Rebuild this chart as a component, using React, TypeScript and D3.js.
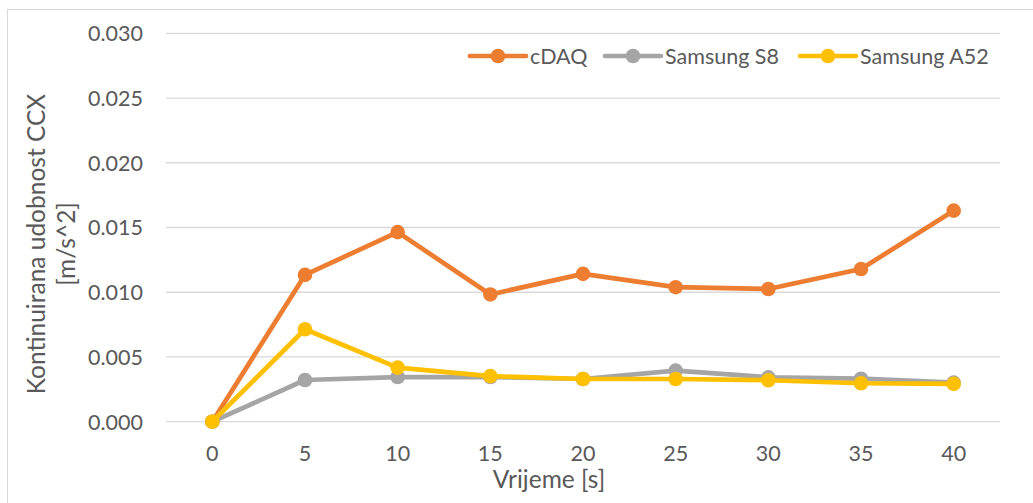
import React from "react";
import * as d3 from "d3";

const categories = ["0", "5", "10", "15", "20", "25", "30", "35", "40"];
const cdaq = [0, 0.01134, 0.01464, 0.00983, 0.01142, 0.01039, 0.01025, 0.01179, 0.0163];
const samsungS8 = [0, 0.00322, 0.00345, 0.00345, 0.0033, 0.00395, 0.00343, 0.00332, 0.00302];
const samsungA52 = [0, 0.00714, 0.00418, 0.00352, 0.0033, 0.0033, 0.0032, 0.00297, 0.00292];
const yTicks = [0, 0.005, 0.01, 0.015, 0.02, 0.025, 0.03];
const seriesNames = ["cDAQ", "Samsung S8", "Samsung A52"];
const seriesColors = ["#ED7D31", "#A5A5A5", "#FFC000"];

const FONT = "Lato, 'Open Sans', sans-serif";
const TEXT = "#595959";
const TICK_FS = 21.5;
const TITLE_FS = 24.5;

export default function App() {
  const W = 1033, H = 503;
  const x = d3.scalePoint<string>().domain(categories).range([166, 1000]).padding(0.5);
  const y = d3.scaleLinear().domain([0, 0.03]).range([421.7, 33.3]);
  const series = [cdaq, samsungS8, samsungA52];
  const line = d3
    .line<number>()
    .x((_, i) => x(categories[i]) as number)
    .y((d) => y(d));
  const legendX = [470, 605, 800];
  const legendY = 56;

  return (
    <svg
      width={W}
      height={H}
      style={{ position: "absolute", left: 0, top: 0, background: "#fff" }}
    >
      <rect x={7.5} y={9.5} width={W + 20} height={H + 20} fill="#fff" stroke="#D9D9D9" strokeWidth={1} />
      {yTicks.map((t) => (
        <g key={t}>
          <line x1={166} x2={1000} y1={y(t)} y2={y(t)} stroke="#D9D9D9" strokeWidth={1.3} />
          <text
            x={143}
            y={y(t) + 7.8}
            textAnchor="end"
            fontFamily={FONT}
            fontSize={TICK_FS}
            fill={TEXT}
          >
            {d3.format(".3f")(t)}
          </text>
        </g>
      ))}
      {categories.map((c) => (
        <text
          key={c}
          x={x(c)}
          y={460.5}
          textAnchor="middle"
          fontFamily={FONT}
          fontSize={TICK_FS}
          fill={TEXT}
        >
          {c}
        </text>
      ))}
      <text x={549} y={487.5} textAnchor="middle" fontFamily={FONT} fontSize={TITLE_FS} fill={TEXT}>
        Vrijeme [s]
      </text>
      <g transform="translate(45,244) rotate(-90)">
        <text x={0} y={0} textAnchor="middle" fontFamily={FONT} fontSize={TITLE_FS} fill={TEXT}>
          Kontinuirana udobnost CCX
        </text>
        <text x={0} y={30} textAnchor="middle" fontFamily={FONT} fontSize={TITLE_FS} fill={TEXT}>
          [m/s^2]
        </text>
      </g>
      {series.map((s, si) => (
        <g key={si}>
          <path
            d={line(s) as string}
            fill="none"
            stroke={seriesColors[si]}
            strokeWidth={4.7}
            strokeLinejoin="round"
            strokeLinecap="round"
          />
          {s.map((v, i) => (
            <circle key={i} cx={x(categories[i])} cy={y(v)} r={7.3} fill={seriesColors[si]} />
          ))}
        </g>
      ))}
      {seriesNames.map((n, i) => (
        <g key={n} transform={`translate(${legendX[i]},${legendY})`}>
          <line x1={0} x2={56} y1={0} y2={0} stroke={seriesColors[i]} strokeWidth={4.7} strokeLinecap="round" />
          <circle cx={28} cy={0} r={7.3} fill={seriesColors[i]} />
          <text x={60} y={7.7} fontFamily={FONT} fontSize={TICK_FS} fill={TEXT}>
            {n}
          </text>
        </g>
      ))}
    </svg>
  );
}
